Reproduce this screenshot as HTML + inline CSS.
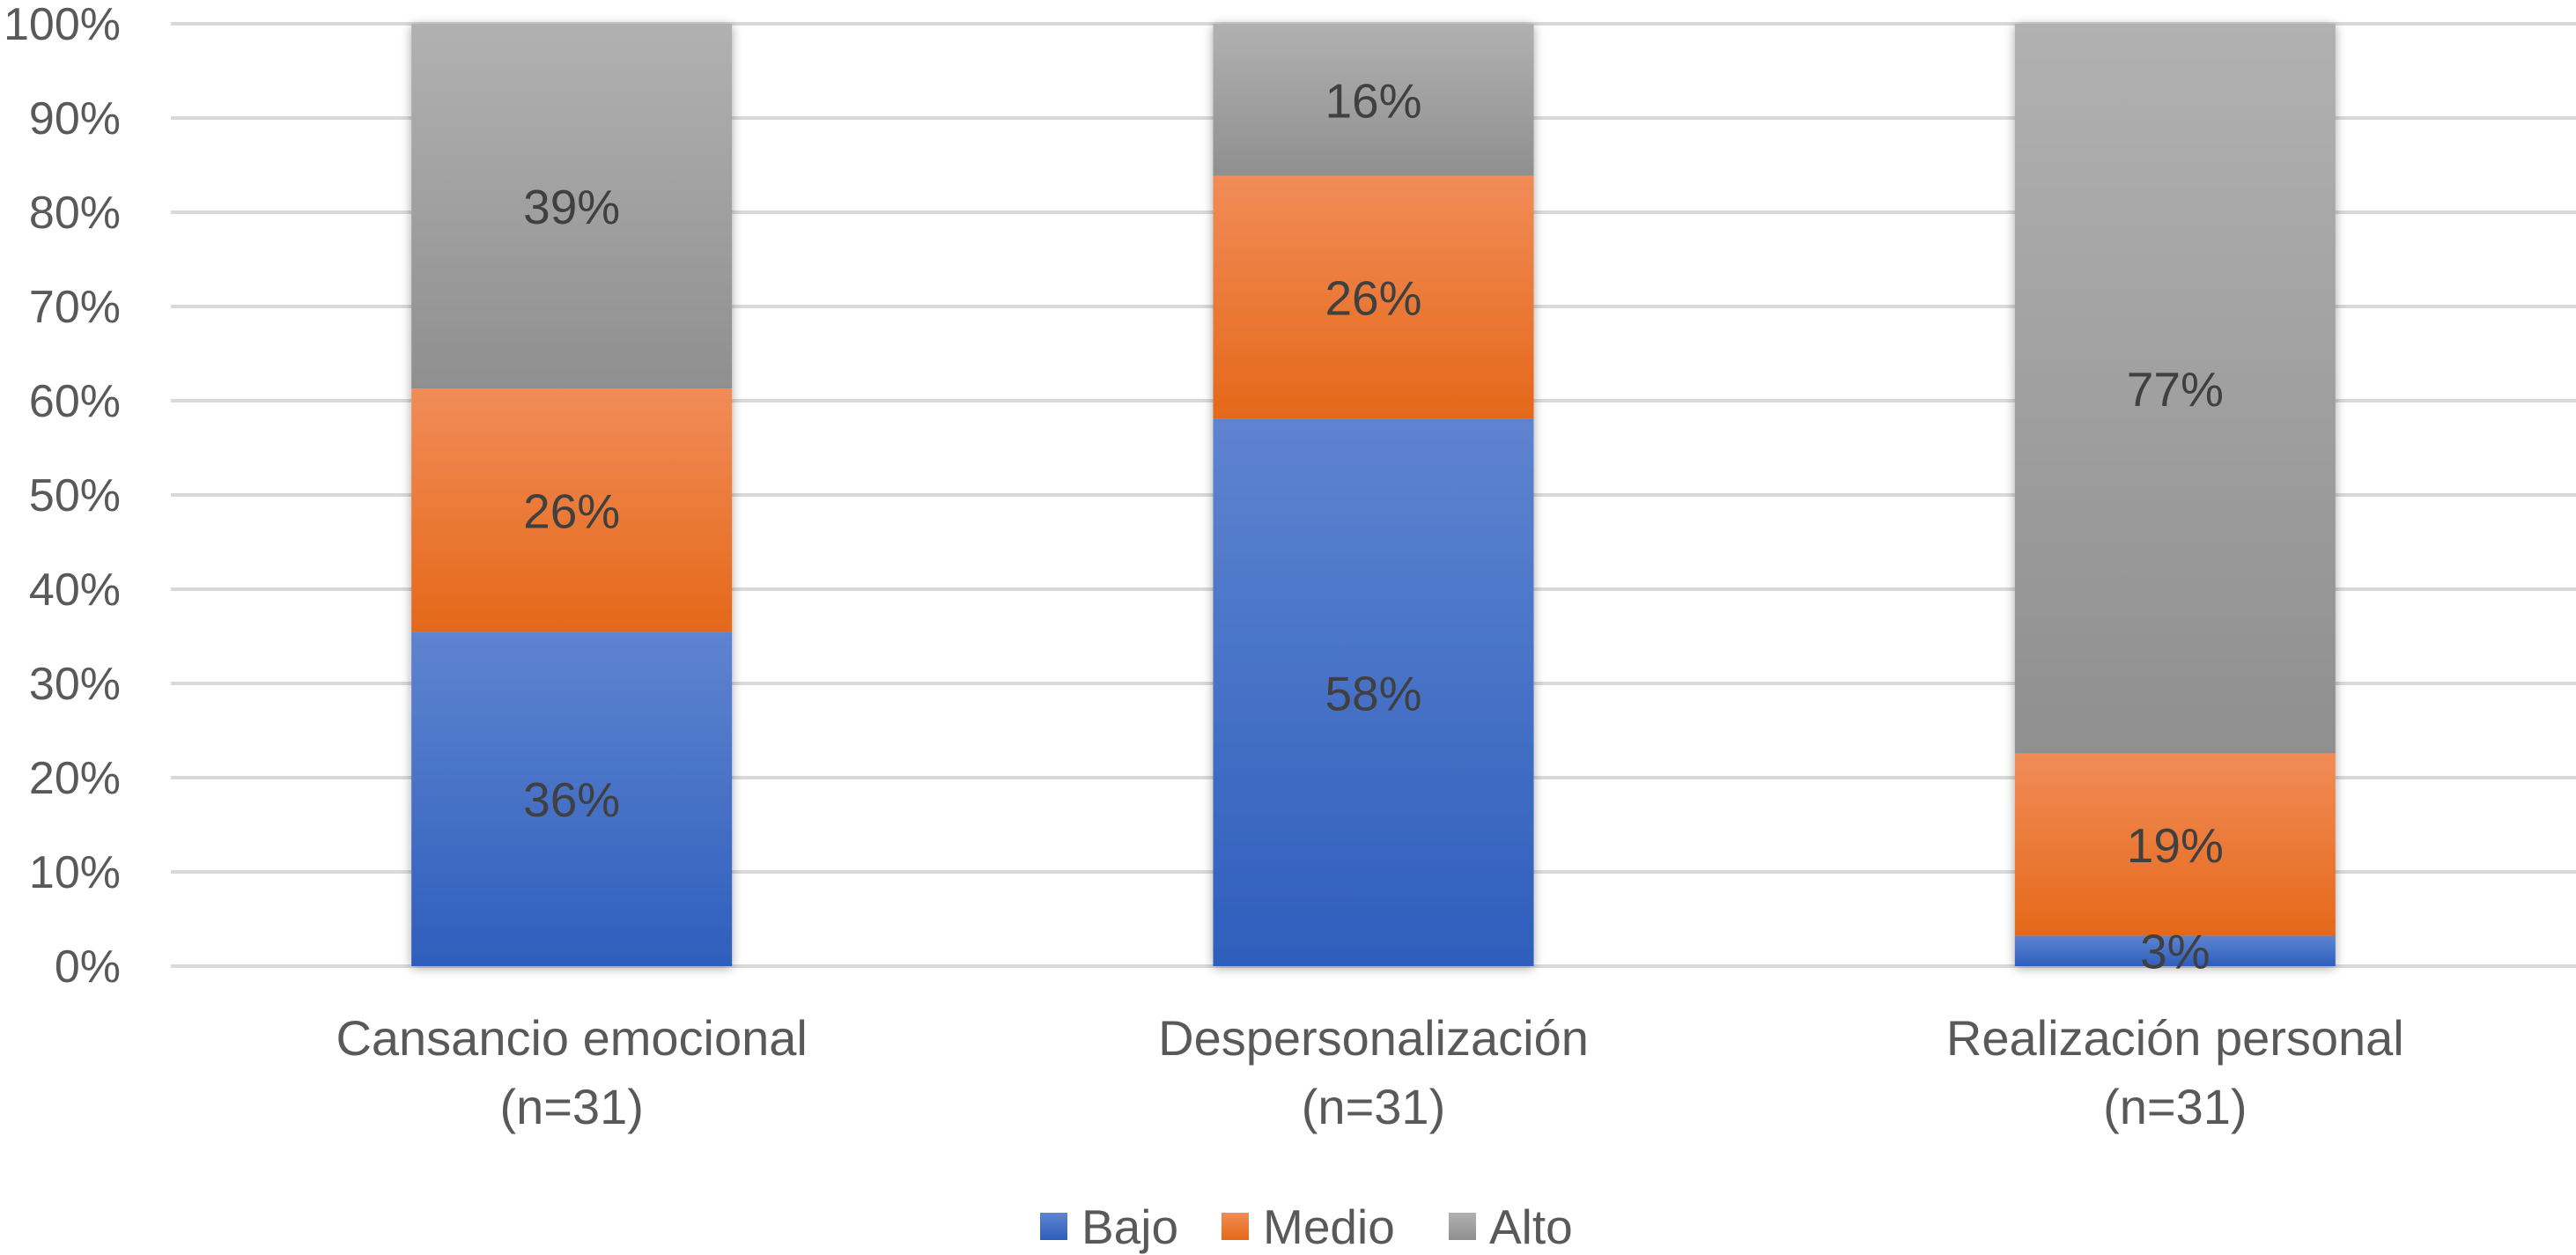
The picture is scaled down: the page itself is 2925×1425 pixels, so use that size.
<!DOCTYPE html>
<html><head><meta charset="utf-8">
<style>
html,body{margin:0;padding:0;background:#fff;}
svg{display:block;font-family:"Liberation Sans",sans-serif;}
</style></head>
<body>
<svg id="chart" width="2925" height="1425" viewBox="0 0 2925 1425" xmlns="http://www.w3.org/2000/svg">
<defs>
<linearGradient id="gBajo" x1="0" y1="0" x2="0" y2="1"><stop offset="0" stop-color="#5e84d0"/><stop offset="1" stop-color="#2e5ebc"/></linearGradient>
<linearGradient id="gMedio" x1="0" y1="0" x2="0" y2="1"><stop offset="0" stop-color="#f18c58"/><stop offset="1" stop-color="#e56819"/></linearGradient>
<linearGradient id="gAlto" x1="0" y1="0" x2="0" y2="1"><stop offset="0" stop-color="#b1b1b1"/><stop offset="1" stop-color="#8f8f8f"/></linearGradient>
<filter id="sh" x="-10%" y="-5%" width="120%" height="110%"><feGaussianBlur in="SourceAlpha" stdDeviation="6"/><feOffset dx="0" dy="2"/><feComponentTransfer><feFuncA type="linear" slope="0.35"/></feComponentTransfer><feMerge><feMergeNode/><feMergeNode in="SourceGraphic"/></feMerge></filter>
</defs>
<g id="grid"></g>
<g id="bars"></g>
<g id="labels"></g>
<g id="legend"></g>
</svg>
<script>
const categories = ["Cansancio emocional", "Despersonalización", "Realización personal"];
const categorySub = ["(n=31)", "(n=31)", "(n=31)"];
const bajo = [35.48, 58.06, 3.23];
const medio = [25.81, 25.81, 19.35];
const alto = [38.71, 16.13, 77.42];
const bajoLabels = ["36%", "58%", "3%"];
const medioLabels = ["26%", "26%", "19%"];
const altoLabels = ["39%", "16%", "77%"];
const yTicks = [0,10,20,30,40,50,60,70,80,90,100];
const seriesNames = ["Bajo", "Medio", "Alto"];

const NS = "http://www.w3.org/2000/svg";
const plotL = 194, plotR = 2925, y0 = 1097, y100 = 27;
const band = (plotR - plotL) / categories.length;
const barW = 364;
function yScale(v){ return y0 - (v/100)*(y0 - y100); }
function xCenter(i){ return plotL + band*(i+0.5); }
function mk(tag, attrs, parent){ const e=document.createElementNS(NS,tag); for(const k in attrs) e.setAttribute(k,attrs[k]); parent.appendChild(e); return e; }

const grid = document.getElementById('grid');
yTicks.forEach(t=>{
  const y = yScale(t);
  const l = mk('line',{x1:plotL,x2:plotR,y1:y,y2:y,stroke:'#d9d9d9','stroke-width':4},grid);
  
  
  const tx = mk('text',{x:137,y:y+18,'text-anchor':'end','font-size':52,fill:'#595959'},grid);
  tx.textContent = t+'%';
  
  
});

const bars = document.getElementById('bars');
const labels = document.getElementById('labels');
const series = [[bajo,bajoLabels,'url(#gBajo)','bajo'],[medio,medioLabels,'url(#gMedio)','medio'],[alto,altoLabels,'url(#gAlto)','alto']];
categories.forEach((c,i)=>{
  const g = mk('g',{filter:'url(#sh)'},bars);
  
  
  let base = 0;
  const x = xCenter(i) - barW/2;
  series.forEach(([vals,labs,fill,nm])=>{
    const v = vals[i];
    const yt = yScale(base+v), yb = yScale(base);
    const r = mk('rect',{x:x,y:yt,width:barW,height:yb-yt,fill:fill},g);
    
    
    const t = mk('text',{x:xCenter(i),y:(yt+yb)/2+20,'text-anchor':'middle','font-size':55,fill:'#404040'},labels);
    t.textContent = labs[i];
    
    
    base += v;
  });
  const c1 = mk('text',{x:xCenter(i),y:1198,'text-anchor':'middle','font-size':56,fill:'#595959'},labels);
  c1.textContent = c;
  
  
  const c2 = mk('text',{x:xCenter(i),y:1276,'text-anchor':'middle','font-size':56,fill:'#595959'},labels);
  c2.textContent = categorySub[i];
  
  
});

const legend = document.getElementById('legend');
const lg = [[1181,1228,'url(#gBajo)'],[1387,1434,'url(#gMedio)'],[1645,1691,'url(#gAlto)']];
seriesNames.forEach((n,k)=>{
  const s = mk('rect',{x:lg[k][0],y:1377,width:31,height:31,fill:lg[k][2]},legend);
  
  
  const t = mk('text',{x:lg[k][1],y:1412,'font-size':55,fill:'#595959'},legend);
  t.textContent = n;
  
  
});
</script>
</body></html>
